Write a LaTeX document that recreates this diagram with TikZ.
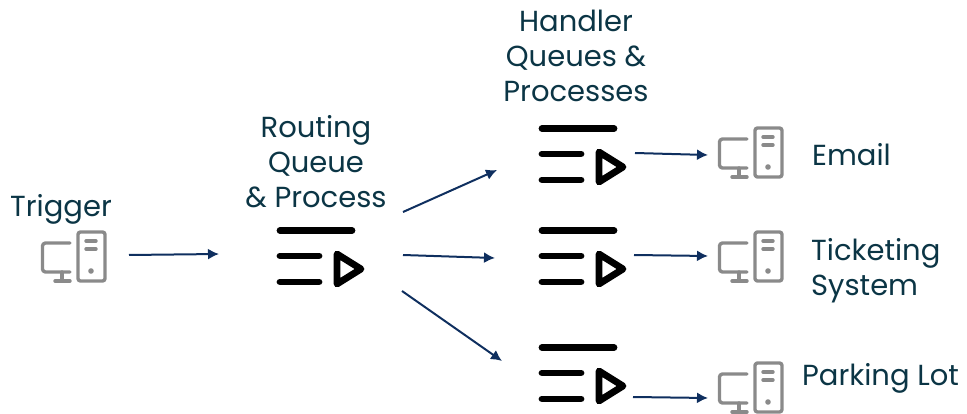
\documentclass[tikz,border=0pt]{standalone}
\usepackage{fontspec}
\setmainfont{Poppins}
\usetikzlibrary{arrows.meta}
\definecolor{lbl}{HTML}{0B3545}
\definecolor{arr}{HTML}{0F2F5F}
\definecolor{ico}{HTML}{8A8A8A}
\tikzset{
  lab/.style={text=lbl,font=\fontsize{29}{35}\selectfont,inner sep=0pt,align=center},
  labl/.style={lab,align=left,anchor=west},
  conn/.style={draw=arr,line width=2pt,-{Latex[length=11pt,width=11pt]}},
  qline/.style={line width=6.8pt,line cap=round,line join=round,black},
  sline/.style={line width=3.4pt,ico,line cap=round,line join=round},
  pics/queue/.style={code={
    \draw[qline] (280,230.5) -- (352,230.5);
    \draw[qline] (280,256) -- (319,256);
    \draw[qline] (280,282) -- (319,282);
    \draw[qline] (337,254) -- (361,269) -- (337,284) -- cycle;
  }},
  pics/server/.style={code={
    \draw[sline,rounded corners=3pt] (70,243) -- (42.5,243) -- (42.5,272) -- (70,272);
    \draw[sline] (62,272) -- (62,281);
    \draw[sline] (55,281) -- (70,281);
    \draw[sline,rounded corners=2.5pt] (78,232) rectangle (105,281);
    \draw[sline] (86,241) -- (96,241);
    \draw[sline] (86,249) -- (96,249);
    \fill[ico] (91,271) circle (2.8);
  }}
}
\begin{document}
\begin{tikzpicture}[x=1pt,y=-1pt]
\useasboundingbox (0,0) rectangle (967,414);
% icons
\pic {server};
\pic {queue};
\pic at (262,-102) {queue};
\pic at (262,0) {queue};
\pic at (262,117) {queue};
\pic at (677,-104) {server};
\pic at (677,0) {server};
\pic at (677,131) {server};
% labels
\node[lab] (trigger) at (61,209) {Trigger};
\node[lab] (routing) at (316,162) {Routing\\Queue\\\& Process};
\node[lab] (handler) at (576,56) {Handler\\Queues \&\\Processes};
\node[labl] (email) at (812,155) {Email};
\node[labl] (ticket) at (811,271) {Ticketing\\System};
\node[labl] (parking) at (802,378) {Parking Lot};
% connector ends
\coordinate (a1) at (129,255); \coordinate (a2) at (219,254);
\coordinate (b1) at (403,212); \coordinate (b2) at (497,170);
\coordinate (c1) at (403,255); \coordinate (c2) at (495,258);
\coordinate (d1) at (402,291); \coordinate (d2) at (502,361);
\coordinate (e1) at (635,153); \coordinate (e2) at (708,155);
\coordinate (f1) at (634,255); \coordinate (f2) at (708,256);
\coordinate (g1) at (633,397); \coordinate (g2) at (708,398);
\draw[conn] (a1) -- (a2);
\draw[conn] (b1) -- (b2);
\draw[conn] (c1) -- (c2);
\draw[conn] (d1) -- (d2);
\draw[conn] (e1) -- (e2);
\draw[conn] (f1) -- (f2);
\draw[conn] (g1) -- (g2);
\end{tikzpicture}
\end{document}
